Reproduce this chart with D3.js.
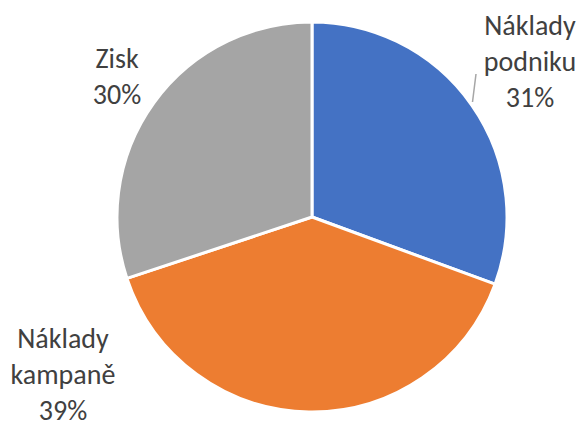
<!DOCTYPE html>
<html>
<head>
<meta charset="utf-8">
<script src="https://cdn.jsdelivr.net/npm/d3@7"></script>
<style>
  html, body { margin: 0; padding: 0; background: #ffffff; }
  svg { display: block; }
</style>
</head>
<body>
<svg id="chart" width="585" height="427"></svg>
<script>
const categories = ["Náklady podniku", "Náklady kampaně", "Zisk"];
const labelLines = [["Náklady", "podniku"], ["Náklady", "kampaně"], ["Zisk"]];
const values = [30.6, 39.3, 30.1];
const colors = ["#4472C4", "#ED7D31", "#A5A5A5"];

const W = 585, H = 427;
const cx = 312, cy = 217, r = 195;

const svg = d3.select("#chart");
const g = svg.append("g").attr("transform", `translate(${cx},${cy})`);

const total = d3.sum(values);
const data = categories.map((c, i) => ({ name: c, value: values[i], lines: labelLines[i], color: colors[i] }));

const pie = d3.pie().value(d => d.value).sort(null).startAngle(0).endAngle(2 * Math.PI);
const arcs = pie(data);
const arc = d3.arc().innerRadius(0).outerRadius(r);

g.selectAll("path.slice")
  .data(arcs)
  .join("path")
  .attr("class", "slice")
  .attr("d", arc)
  .attr("fill", d => d.data.color)
  .attr("stroke", "#ffffff")
  .attr("stroke-width", 3)
  .attr("stroke-linejoin", "round");

const labelPos = [
  { x: 530, y: 35 },
  { x: 63, y: 348 },
  { x: 117, y: 68 }
];
const lineH = 36;

const labels = svg.append("g")
  .attr("font-family", "Carlito, Calibri, Lato, 'Open Sans', sans-serif")
  .attr("font-size", 28)
  .attr("fill", "#404040")
  .attr("text-anchor", "middle");

arcs.forEach((a, i) => {
  const p = labelPos[i];
  const pct = Math.round(a.data.value / total * 100) + "%";
  const lines = a.data.lines.concat([pct]);
  const t = labels.append("text").attr("x", p.x).attr("y", p.y);
  lines.forEach((ln, j) => {
    t.append("tspan").attr("x", p.x).attr("y", p.y + j * lineH).text(ln);
  });
});

svg.append("line")
  .attr("x1", 476).attr("y1", 74)
  .attr("x2", 472.5).attr("y2", 102)
  .attr("stroke", "#A6A6A6")
  .attr("stroke-width", 1.5);
</script>
</body>
</html>
